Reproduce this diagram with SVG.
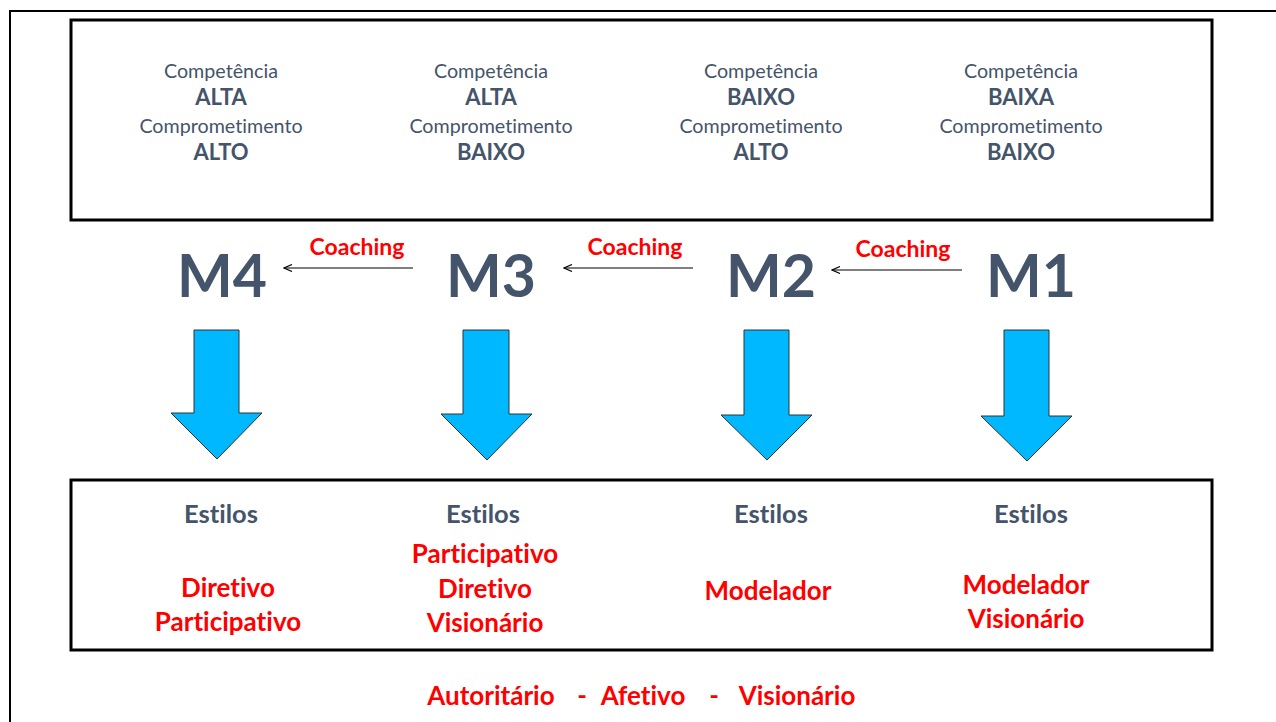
<svg xmlns="http://www.w3.org/2000/svg" width="1276" height="722" viewBox="0 0 1276 722">
<defs>
<style>
text{font-variant-ligatures:none;font-feature-settings:"liga" 0}
.g{font-family:Lato,"Open Sans","Liberation Sans",sans-serif;fill:#44546A;text-anchor:middle}
.n{font-size:19.7px}
.b{font-size:22px;font-weight:bold}
.e{font-size:25.5px;font-weight:bold}
.m{font-size:59px;font-weight:bold}
.r{font-family:Lato,"Open Sans","Liberation Sans",sans-serif;fill:#FF0000;font-weight:bold;text-anchor:middle;font-size:26px}
.c{font-size:23px}
.box{fill:none;stroke:#000;stroke-width:3}
.ar{fill:#00B8FF;stroke:#333;stroke-width:1}
.ln{stroke:#000;stroke-width:1;fill:none}
</style>
<marker id="ah" markerWidth="10" markerHeight="8" refX="9" refY="4" orient="auto" markerUnits="userSpaceOnUse">
<path d="M1,0.5 L9,4 L1,7.5" fill="none" stroke="#000" stroke-width="1.2"/>
</marker>
</defs>
<rect width="1276" height="722" fill="#fff"/>
<rect x="10" y="11" width="1300" height="730" fill="none" stroke="#000" stroke-width="2"/>
<g id="top-box">
<rect class="box" x="71" y="20" width="1141" height="200"/>
</g>
<g id="c4"><text class="g n" x="221" y="78">Competência</text><text class="g b" x="221" y="105">ALTA</text><text class="g n" x="221" y="133">Comprometimento</text><text class="g b" x="221" y="160">ALTO</text></g>
<g id="c3"><text class="g n" x="491" y="78">Competência</text><text class="g b" x="491" y="105">ALTA</text><text class="g n" x="491" y="133">Comprometimento</text><text class="g b" x="491" y="160">BAIXO</text></g>
<g id="c2"><text class="g n" x="761" y="78">Competência</text><text class="g b" x="761" y="105">BAIXO</text><text class="g n" x="761" y="133">Comprometimento</text><text class="g b" x="761" y="160">ALTO</text></g>
<g id="c1"><text class="g n" x="1021" y="78">Competência</text><text class="g b" x="1021" y="105">BAIXA</text><text class="g n" x="1021" y="133">Comprometimento</text><text class="g b" x="1021" y="160">BAIXO</text></g>
<g id="M4"><text class="g m" x="222" y="297">M4</text></g>
<g id="M3"><text class="g m" x="491" y="297">M3</text></g>
<g id="M2"><text class="g m" x="771" y="297">M2</text></g>
<g id="M1"><text class="g m" x="1031" y="297">M1</text></g>
<g id="connectors">
<line class="ln" x1="413" y1="268" x2="284" y2="268" marker-end="url(#ah)"/>
<line class="ln" x1="693" y1="268" x2="564" y2="268" marker-end="url(#ah)"/>
<line class="ln" x1="962" y1="270" x2="832" y2="270" marker-end="url(#ah)"/>
<text class="r c" x="357" y="255">Coaching</text>
<text class="r c" x="635" y="255">Coaching</text>
<text class="r c" x="903" y="257">Coaching</text>
<polygon class="ar" points="194,330 239,330 239,413 262,413 217,459 171,413 194,413"/>
<polygon class="ar" points="463,330 509,330 509,414 532,414 487,460 441,414 463,414"/>
<polygon class="ar" points="744,330 789,330 789,415 812,415 767,460 721,415 744,415"/>
<polygon class="ar" points="1004,330 1049,330 1049,416 1072,416 1027,461 981,416 1004,416"/>
</g>
<g id="bottom-box">
<rect class="box" x="71" y="480" width="1141" height="170"/>
</g>
<g id="s4"><text class="g e" x="221" y="523">Estilos</text><text class="r" x="228" y="597">Diretivo</text><text class="r" x="228" y="631">Participativo</text></g>
<g id="s3"><text class="g e" x="483" y="523">Estilos</text><text class="r" x="485" y="563">Participativo</text><text class="r" x="485" y="598">Diretivo</text><text class="r" x="485" y="632">Visionário</text></g>
<g id="s2"><text class="g e" x="771" y="523">Estilos</text><text class="r" x="768" y="600">Modelador</text></g>
<g id="s1"><text class="g e" x="1031" y="523">Estilos</text><text class="r" x="1026" y="594">Modelador</text><text class="r" x="1026" y="628">Visionário</text></g>
<g id="footer"><text class="r" x="491" y="705">Autoritário</text><text class="r" x="582" y="705">-</text><text class="r" x="643" y="705">Afetivo</text><text class="r" x="714" y="705">-</text><text class="r" x="797" y="705">Visionário</text></g>
</svg>
